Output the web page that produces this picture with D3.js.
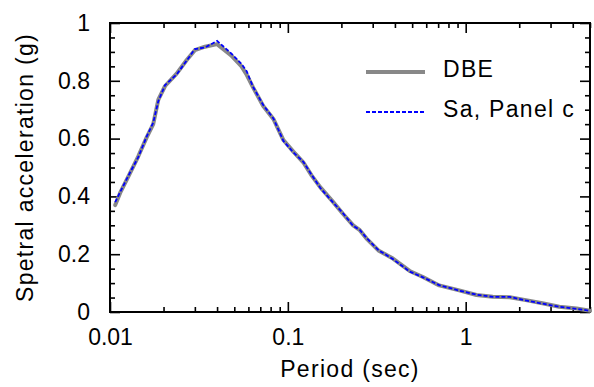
<!DOCTYPE html>
<html lang="en">
<head>
<meta charset="utf-8">
<title>Spectral acceleration</title>
<script src="https://d3js.org/d3.v7.min.js"></script>
<style>
  body { margin: 0; background: #fff; }
  text { font-family: "Liberation Sans", Arial, sans-serif; }
</style>
</head>
<body>
<div id="chart"></div>
<script>
// periods (sec)
const periods = [0.0107, 0.0114, 0.0129, 0.0144, 0.0161, 0.0175, 0.0187, 0.0204, 0.0237, 0.027,
  0.030, 0.0342, 0.040, 0.048, 0.0549, 0.0588, 0.0636, 0.0727, 0.0829, 0.0944,
  0.1074, 0.1221, 0.1362, 0.152, 0.179, 0.204, 0.233, 0.254, 0.277, 0.323,
  0.39, 0.484, 0.575, 0.71, 0.92, 1.15, 1.42, 1.77, 2.18, 2.7,
  3.36, 4.2, 5.0];
// DBE target spectrum (g)
const dbe = [0.370, 0.412, 0.478, 0.538, 0.605, 0.650, 0.735, 0.782, 0.825, 0.872,
  0.906, 0.918, 0.927, 0.888, 0.850, 0.820, 0.778, 0.713, 0.668, 0.595,
  0.555, 0.518, 0.472, 0.432, 0.382, 0.340, 0.300, 0.283, 0.254, 0.213,
  0.185, 0.142, 0.121, 0.092, 0.075, 0.059, 0.053, 0.051, 0.041, 0.030,
  0.018, 0.012, 0.004];
// Sa, Panel c (g)
const panelC = [0.380, 0.415, 0.480, 0.535, 0.608, 0.655, 0.730, 0.785, 0.822, 0.870,
  0.910, 0.915, 0.938, 0.895, 0.858, 0.832, 0.780, 0.716, 0.670, 0.592,
  0.552, 0.520, 0.474, 0.430, 0.380, 0.342, 0.298, 0.284, 0.256, 0.214,
  0.183, 0.140, 0.120, 0.093, 0.074, 0.060, 0.052, 0.052, 0.040, 0.029,
  0.018, 0.011, 0.004];

const xMajor = [0.01, 0.1, 1];
const xMinor = [0.02, 0.03, 0.04, 0.05, 0.06, 0.07, 0.08, 0.09,
  0.2, 0.3, 0.4, 0.5, 0.6, 0.7, 0.8, 0.9, 2, 3, 4, 5];
const yMajor = [0, 0.2, 0.4, 0.6, 0.8, 1];
const yMinor = [0.05, 0.1, 0.15, 0.25, 0.3, 0.35, 0.45, 0.5, 0.55, 0.65, 0.7, 0.75, 0.85, 0.9, 0.95];

const W = 594, H = 387;
const L = 110, R = 590, T = 23, B = 312;

const svg = d3.select("#chart").append("svg")
  .attr("width", W).attr("height", H);

const x = d3.scaleLog().domain([0.01, 5]).range([L, R]);
const y = d3.scaleLinear().domain([0, 1]).range([B, T]);

function styleAxis(g) {
  g.select(".domain").remove();
  g.selectAll(".tick line").attr("stroke", "#000").attr("stroke-width", 1.6);
  g.selectAll("text").attr("fill", "#000").style("font-size", "23px");
}

// bottom
svg.append("g").attr("transform", `translate(0,${B})`)
  .call(d3.axisBottom(x).tickValues(xMajor).tickSize(-10).tickPadding(17)
    .tickFormat(d => d3.format("")(d)))
  .call(styleAxis);
svg.append("g").attr("transform", `translate(0,${B})`)
  .call(d3.axisBottom(x).tickValues(xMinor).tickSize(-5).tickFormat(""))
  .call(styleAxis);
// top
svg.append("g").attr("transform", `translate(0,${T})`)
  .call(d3.axisBottom(x).tickValues(xMajor).tickSize(10).tickFormat(""))
  .call(styleAxis);
svg.append("g").attr("transform", `translate(0,${T})`)
  .call(d3.axisBottom(x).tickValues(xMinor).tickSize(5).tickFormat(""))
  .call(styleAxis);
// left
svg.append("g").attr("transform", `translate(${L},0)`)
  .call(d3.axisLeft(y).tickValues(yMajor).tickSize(-10).tickPadding(20)
    .tickFormat(d => d3.format("")(d)))
  .call(styleAxis);
svg.append("g").attr("transform", `translate(${L},0)`)
  .call(d3.axisLeft(y).tickValues(yMinor).tickSize(-5).tickFormat(""))
  .call(styleAxis);
// right
svg.append("g").attr("transform", `translate(${R},0)`)
  .call(d3.axisRight(y).tickValues(yMajor).tickSize(-10).tickFormat(""))
  .call(styleAxis);
svg.append("g").attr("transform", `translate(${R},0)`)
  .call(d3.axisRight(y).tickValues(yMinor).tickSize(-5).tickFormat(""))
  .call(styleAxis);

// frame
svg.append("rect")
  .attr("x", L).attr("y", T).attr("width", R - L).attr("height", B - T)
  .attr("fill", "none").attr("stroke", "#000").attr("stroke-width", 2);

const line = d3.line().x(d => x(d[0])).y(d => y(d[1]));

svg.append("path")
  .datum(periods.map((p, i) => [p, dbe[i]]))
  .attr("d", line)
  .attr("fill", "none").attr("stroke", "#888").attr("stroke-width", 4)
  .attr("stroke-linejoin", "round").attr("stroke-linecap", "round");

svg.append("path")
  .datum(periods.map((p, i) => [p, panelC[i]]))
  .attr("d", line)
  .attr("fill", "none").attr("stroke", "#0000ff").attr("stroke-width", 1.8)
  .attr("stroke-dasharray", "4,2");

// axis titles
svg.append("text")
  .attr("x", (L + R) / 2).attr("y", 377)
  .attr("text-anchor", "middle")
  .style("font-size", "23px").style("letter-spacing", "1.3px")
  .text("Period (sec)");

svg.append("text")
  .attr("transform", `translate(33,${(T + B) / 2}) rotate(-90)`)
  .attr("text-anchor", "middle")
  .style("font-size", "23px").style("letter-spacing", "1.3px")
  .text("Spetral acceleration (g)");

// legend
const legend = [
  { name: "DBE", color: "#888", width: 4, dash: null, y: 72 },
  { name: "Sa, Panel c", color: "#0000ff", width: 1.8, dash: "4,2", y: 112 }
];
const lg = svg.append("g");
lg.selectAll("line").data(legend).join("line")
  .attr("x1", 366).attr("x2", 425)
  .attr("y1", d => d.y).attr("y2", d => d.y)
  .attr("stroke", d => d.color).attr("stroke-width", d => d.width)
  .attr("stroke-dasharray", d => d.dash);
lg.selectAll("text").data(legend).join("text")
  .attr("x", 443).attr("y", d => d.y + 5)
  .attr("dominant-baseline", "auto")
  .style("font-size", "23px").style("letter-spacing", "1.3px")
  .text(d => d.name);
</script>
</body>
</html>
